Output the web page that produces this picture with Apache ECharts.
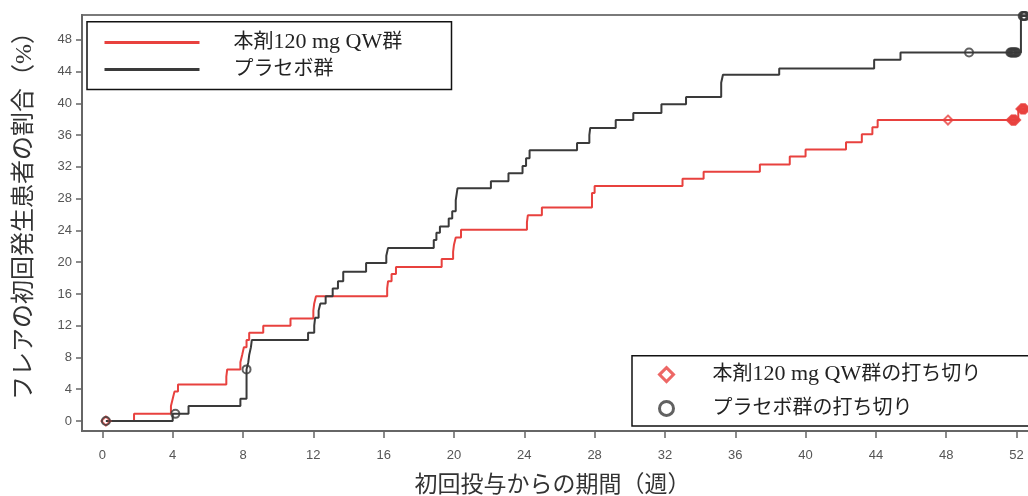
<!DOCTYPE html>
<html><head><meta charset="utf-8">
<script src="https://cdn.jsdelivr.net/npm/echarts@6/dist/echarts.min.js"></script>
<style>html,body{margin:0;padding:0;background:#fff}#c{width:1028px;height:496px}</style>
</head><body><div id="c"></div>
<script>
const seriesNames = ['本剤120 mg QW群', 'プラセボ群'];
const censorNames = ['本剤120 mg QW群の打ち切り', 'プラセボ群の打ち切り'];
const xTicks = [0, 4, 8, 12, 16, 20, 24, 28, 32, 36, 40, 44, 48, 52];
const yTicks = [0, 4, 8, 12, 16, 20, 24, 28, 32, 36, 40, 44, 48];
const xTitle = '初回投与からの期間（週）';
const yTitle = 'フレアの初回発生患者の割合（%）';

// 本剤120 mg QW群: event weeks and cumulative %
const drugWeeks = [0.2, 1.8, 3.9, 4.0, 4.1, 4.3, 7.05, 7.1, 7.85, 7.95, 8.05, 8.2, 8.35, 9.15, 10.7, 12.0, 12.05, 12.15, 16.2, 16.25, 16.45, 16.7, 19.3, 19.95, 20.0, 20.1, 20.4, 24.15, 24.2, 25.0, 27.85, 28.0, 33.0, 34.2, 37.4, 39.1, 40.0, 42.3, 43.2, 43.8, 44.1, 52.1, 52.6];
const drugPct   = [0, 0.9, 1.9, 2.8, 3.7, 4.6, 5.6, 6.5, 7.4, 8.3, 9.3, 10.2, 11.1, 12.0, 12.9, 13.9, 14.8, 15.7, 16.7, 17.6, 18.5, 19.4, 20.4, 21.3, 22.2, 23.1, 24.1, 25.0, 25.9, 26.9, 28.7, 29.6, 30.5, 31.4, 32.3, 33.3, 34.2, 35.1, 36.1, 37.0, 37.9, 39.3, 39.3];

// プラセボ群
const placeboWeeks = [0.2, 4.0, 4.9, 7.85, 8.2, 8.3, 8.35, 8.45, 8.5, 11.7, 12.05, 12.1, 12.3, 12.4, 12.7, 13.1, 13.4, 13.7, 15.0, 16.15, 16.25, 18.85, 19.0, 19.2, 19.7, 19.9, 20.1, 20.2, 22.1, 23.1, 23.9, 24.1, 24.3, 27.0, 27.7, 27.75, 29.2, 30.2, 31.8, 33.2, 35.2, 35.3, 38.5, 43.9, 45.4, 52.25, 52.6];
const placeboPct   = [0, 0.9, 1.9, 2.8, 6.5, 7.4, 8.3, 9.3, 10.2, 11.1, 12.0, 13.0, 13.9, 14.8, 15.7, 16.7, 17.6, 18.8, 19.9, 20.8, 21.8, 22.8, 23.7, 24.5, 25.5, 26.4, 27.8, 29.3, 30.2, 31.2, 32.1, 33.1, 34.1, 35.0, 36.0, 36.9, 37.9, 38.8, 39.9, 40.8, 42.6, 43.6, 44.4, 45.5, 46.4, 51.0, 51.0];

// censoring marks
const drugCensorWeeks = [0.2, 48.1, 51.7, 51.75, 51.8, 51.85, 51.9, 51.95, 52.25, 52.3, 52.35, 52.4, 52.45, 52.5];
const drugCensorPct   = [0, 37.9, 37.9, 37.9, 37.9, 37.9, 37.9, 37.9, 39.3, 39.3, 39.3, 39.3, 39.3, 39.3];
const placeboCensorWeeks = [0.2, 4.15, 8.2, 49.3, 51.65, 51.7, 51.75, 51.8, 51.85, 51.9, 51.95, 52.0, 52.35, 52.4, 52.45, 52.5];
const placeboCensorPct   = [0, 0.9, 6.5, 46.4, 46.4, 46.4, 46.4, 46.4, 46.4, 46.4, 46.4, 46.4, 51.0, 51.0, 51.0, 51.0];

const zip = (a, b) => a.map((v, i) => [v, b[i]]);
const RED = '#e8413e', BLK = '#3a3a3a';
const JP = "'Liberation Serif', 'Noto Sans CJK JP', serif";
const tickFont = { fontFamily: "'Liberation Sans', Arial, sans-serif", fontSize: 13, color: '#555' };
const latinRich = { l: { fontFamily: "'Liberation Serif', serif", fontSize: 22, lineHeight: 14, color: '#222' } };
const richName = name => name.replace(/([0-9A-Za-z][0-9A-Za-z ]*[0-9A-Za-z])/, '{l|$1}');

const chart = echarts.init(document.getElementById('c'), null, { renderer: 'canvas' });
chart.setOption({
  animation: false,
  backgroundColor: '#fff',
  grid: { left: 82, right: -20, top: 15, bottom: 65, outerBoundsMode: 'none', containLabel: false,
          show: true, borderColor: '#7a7a7a', borderWidth: 2, backgroundColor: 'transparent' },
  xAxis: {
    type: 'value', min: -1.16, max: 53.79,
    name: xTitle, nameLocation: 'middle', nameGap: 43,
    nameTextStyle: { fontFamily: JP, fontSize: 23, color: '#333', padding: [0, 25, 0, 0] },
    axisLine: { show: true, onZero: false, lineStyle: { color: '#666', width: 2 } },
    axisTick: { show: true, length: 7, customValues: xTicks, lineStyle: { color: '#666', width: 1.5 } },
    axisLabel: Object.assign({ customValues: xTicks, margin: 18 }, tickFont),
    splitLine: { show: false }
  },
  yAxis: {
    type: 'value', min: -1.26, max: 51.13,
    name: yTitle, nameLocation: 'middle', nameGap: 45, nameRotate: 90,
    nameTextStyle: { fontFamily: JP, fontSize: 24, color: '#333', padding: [0, 0, 0, 26] },
    axisLine: { show: true, onZero: false, lineStyle: { color: '#666', width: 2 } },
    axisTick: { show: true, length: 6, customValues: yTicks, lineStyle: { color: '#666', width: 1.5 } },
    axisLabel: Object.assign({ customValues: yTicks, margin: 10 }, tickFont),
    splitLine: { show: false }
  },
  legend: [
    {
      data: seriesNames, orient: 'vertical', left: 87, top: 21.7,
      itemWidth: 95, itemHeight: 14, itemGap: 6, selectedMode: false,
      padding: [9.7, 33, 10.2, 16], borderColor: '#111', borderWidth: 1.5,
      itemStyle: { opacity: 0 }, lineStyle: { width: 3 },
      formatter: richName,
      textStyle: { fontFamily: JP, fontSize: 20, lineHeight: 14, color: '#222', padding: [0, 0, 0, 29], width: 185, rich: latinRich }
    },
    {
      data: censorNames, orient: 'vertical', left: 632, top: 355.7,
      itemWidth: 14, itemHeight: 14, itemGap: 12.8, selectedMode: false,
      padding: [7.9, 100, 7.6, 26], borderColor: '#111', borderWidth: 1.5,
      itemStyle: { borderWidth: 3 },
      formatter: richName,
      textStyle: { fontFamily: JP, fontSize: 20, lineHeight: 14, color: '#222', padding: [0, 0, 0, 34], width: 300, rich: latinRich }
    }
  ],
  series: [
    { name: seriesNames[0], type: 'line', step: 'end', symbol: 'none', data: zip(drugWeeks, drugPct),
      lineStyle: { color: RED, width: 2 }, itemStyle: { color: RED }, z: 3 },
    { name: seriesNames[1], type: 'line', step: 'end', symbol: 'none', data: zip(placeboWeeks, placeboPct),
      lineStyle: { color: BLK, width: 2 }, itemStyle: { color: BLK }, z: 3 },
    { name: censorNames[0], type: 'scatter', symbol: 'diamond', symbolSize: 9, data: zip(drugCensorWeeks, drugCensorPct),
      itemStyle: { color: 'rgba(255,255,255,0)', borderColor: RED, borderWidth: 2 }, z: 4 },
    { name: censorNames[1], type: 'scatter', symbol: 'circle', symbolSize: 8, data: zip(placeboCensorWeeks, placeboCensorPct),
      itemStyle: { color: 'rgba(255,255,255,0)', borderColor: BLK, borderWidth: 2 }, z: 4 }
  ]
});
</script></body></html>
